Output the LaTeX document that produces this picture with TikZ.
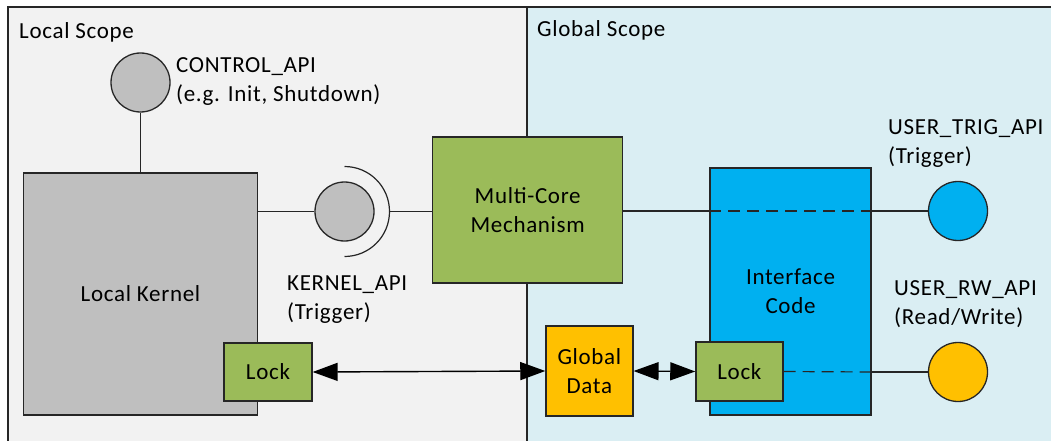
\documentclass[tikz,border=0pt]{standalone}
\usepackage{fontspec}
\setmainfont[LetterSpace=3]{Carlito}
\usetikzlibrary{arrows.meta}
\definecolor{localbg}{HTML}{F2F2F2}
\definecolor{globalbg}{HTML}{DAEEF3}
\definecolor{kgray}{HTML}{BFBFBF}
\definecolor{lgreen}{HTML}{9BBB59}
\definecolor{iblue}{HTML}{00B0F0}
\definecolor{dorange}{HTML}{FFC000}
\definecolor{edge}{HTML}{262626}
\tikzset{
  box/.style={draw=edge, line width=1.3pt, rectangle, inner sep=0pt, align=center},
  api/.style={draw=edge, line width=1.3pt, circle, inner sep=0pt, minimum size=59pt},
  lbl/.style={anchor=west, align=left, inner sep=0pt},
  conn/.style={draw=edge, line width=1.2pt},
  dconn/.style={draw=edge, line width=1.2pt, dash pattern=on 12pt off 7pt},
  tip/.tip={Triangle[length=25pt,width=18pt]},
  dblarrow/.style={draw=black, line width=1.4pt, tip-tip}
}
\begin{document}
\begin{tikzpicture}[x=1pt,y=-1pt,font=\fontsize{23}{29}\selectfont]
\useasboundingbox (0,0) rectangle (1051,441);
\begin{scope}
  \clip (0,0) rectangle (1051,441);
  \fill[white] (0,0) rectangle (1051,441);
  \fill[localbg] (8,7) rectangle (527,460);
  \fill[globalbg] (527,7) rectangle (1070,460);
  \draw[conn] (8,460) -- (8,7) -- (1070,7);
  \draw[conn] (527,7) -- (527,460);
\end{scope}
\node[lbl] (lscope) at (19,32) {Local Scope};
\node[lbl] (gscope) at (537,30) {Global Scope};

% boxes
\node[box, fill=kgray, minimum width=234pt, minimum height=242pt] (kernel) at (140.5,294) {Local Kernel};
\node[box, fill=lgreen, minimum width=190pt, minimum height=146pt] (mcm) at (527.7,210) {Multi-Core\\Mechanism};
\node[box, fill=iblue, minimum width=161pt, minimum height=247pt] (iface) at (790.5,291.5) {Interface\\Code};
\node[box, fill=lgreen, minimum width=88pt, minimum height=58pt] (lock1) at (268,372) {Lock};
\node[box, fill=lgreen, minimum width=87pt, minimum height=59pt] (lock2) at (739.4,371.5) {Lock};
\node[box, fill=dorange, minimum width=87pt, minimum height=90pt] (gdata) at (589.4,371) {Global\\Data};

% API circles
\node[api, fill=kgray] (ctrl) at (140.5,82.5) {};
\node[api, fill=kgray] (kapi) at (344.5,211.5) {};
\node[api, fill=iblue] (trig) at (958,211) {};
\node[api, fill=dorange] (rw) at (958,372) {};

% labels
\node[lbl] (ctrllbl) at (176,82) {CONTROL\_API\\(e.g. Init, Shutdown)};
\node[lbl] (kapilbl) at (287,299.5) {KERNEL\_API\\(Trigger)};
\node[lbl] (triglbl) at (888,144) {USER\_TRIG\_API\\(Trigger)};
\node[lbl] (rwlbl) at (894,304.5) {USER\_RW\_API\\(Read/Write)};

% connectors
\draw[conn] (ctrl) -- (kernel);
\draw[conn] (kapi.west) -- (kapi.west -| kernel.east);
\coordinate (arctop) at (344.5,166.5);
\coordinate (arcright) at (389.5,211.5);
\draw[conn] (arctop) arc[start angle=-90, end angle=90, radius=45];
\draw[conn] (arcright) -- (arcright -| mcm.west);

\coordinate (t1) at (trig.west -| iface.west);
\coordinate (t2) at (trig.west -| iface.east);
\draw[conn] (t1 -| mcm.east) -- (t1);
\draw[dconn] (t1) -- (t2);
\draw[conn] (t2) -- (trig.west);

\coordinate (r1) at (rw.west -| iface.east);
\draw[dconn] (lock2.east) -- (r1);
\draw[conn] (r1) -- (rw.west);

\draw[dblarrow] (lock1.east) -- (gdata.west);
\draw[dblarrow] (gdata.east) -- (lock2.west);
\end{tikzpicture}
\end{document}
